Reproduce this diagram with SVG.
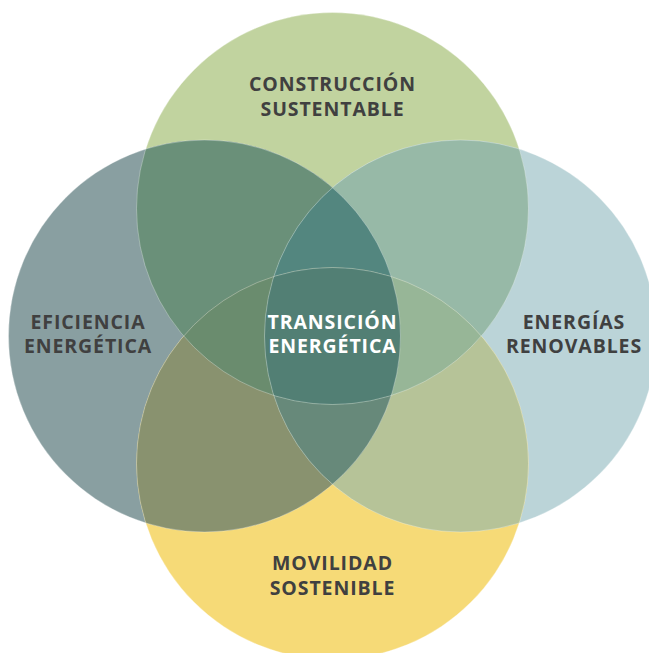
<svg xmlns="http://www.w3.org/2000/svg" width="649" height="653" viewBox="0 0 649 653">
  <style>
    .lbl { font-family: "Open Sans", "Noto Sans", "DejaVu Sans", sans-serif; font-weight: 700; font-size: 19.5px; letter-spacing: 0.9px; fill: #404040; text-anchor: middle; }
    .lbl-in { fill: #ffffff; }
    .edge { fill: none; stroke: #ffffff; stroke-opacity: 0.3; stroke-width: 1; }
  </style>
  <defs>
    <circle id="shT" cx="332.5" cy="208.5" r="196"/>
    <circle id="shL" cx="204.5" cy="336" r="196"/>
    <circle id="shR" cx="460.5" cy="336" r="196"/>
    <circle id="shB" cx="332.5" cy="463.5" r="196"/>
    <clipPath id="cT"><use href="#shT"/></clipPath>
    <clipPath id="cL"><use href="#shL"/></clipPath>
    <clipPath id="cR"><use href="#shR"/></clipPath>
    <clipPath id="cB"><use href="#shB"/></clipPath>
  </defs>

  <rect width="649" height="653" fill="#ffffff"/>

  <!-- outer circles with their labels -->
  <g id="construccion">
    <use href="#shT" fill="#c1d39f"/>
    <text class="lbl" x="332.5" y="90.5">CONSTRUCCIÓN</text>
    <text class="lbl" x="332.5" y="115.5">SUSTENTABLE</text>
  </g>
  <g id="eficiencia">
    <use href="#shL" fill="#899fa1"/>
    <text class="lbl" x="88" y="328.5">EFICIENCIA</text>
    <text class="lbl" x="88" y="352.5">ENERGÉTICA</text>
  </g>
  <g id="renovables">
    <use href="#shR" fill="#bbd4d8"/>
    <text class="lbl" x="574" y="328.5">ENERGÍAS</text>
    <text class="lbl" x="574" y="352.5">RENOVABLES</text>
  </g>
  <g id="movilidad">
    <use href="#shB" fill="#f6da77"/>
    <text class="lbl" x="332.5" y="569.5">MOVILIDAD</text>
    <text class="lbl" x="332.5" y="594.5">SOSTENIBLE</text>
  </g>

  <!-- overlap regions between the circles -->
  <g id="overlaps">
    <use href="#shL" clip-path="url(#cT)" fill="#6a9079"/>
    <use href="#shR" clip-path="url(#cT)" fill="#97b9a7"/>
    <use href="#shL" clip-path="url(#cB)" fill="#89926f"/>
    <use href="#shR" clip-path="url(#cB)" fill="#b6c398"/>
    <g clip-path="url(#cT)"><use href="#shL" clip-path="url(#cR)" fill="#53867f"/></g>
    <g clip-path="url(#cB)"><use href="#shL" clip-path="url(#cR)" fill="#67897a"/></g>
    <g clip-path="url(#cT)"><use href="#shL" clip-path="url(#cB)" fill="#6a8c6e"/></g>
    <g clip-path="url(#cT)"><use href="#shR" clip-path="url(#cB)" fill="#97b697"/></g>
  </g>

  <!-- shared centre of all four circles -->
  <g id="transicion">
    <g clip-path="url(#cT)"><g clip-path="url(#cB)"><use href="#shL" clip-path="url(#cR)" fill="#527f74"/></g></g>
    <g id="outlines">
      <use href="#shT" class="edge"/>
      <use href="#shL" class="edge"/>
      <use href="#shR" class="edge"/>
      <use href="#shB" class="edge"/>
    </g>
    <text class="lbl lbl-in" x="332.5" y="328.5">TRANSICIÓN</text>
    <text class="lbl lbl-in" x="332.5" y="352.5">ENERGÉTICA</text>
  </g>
</svg>
